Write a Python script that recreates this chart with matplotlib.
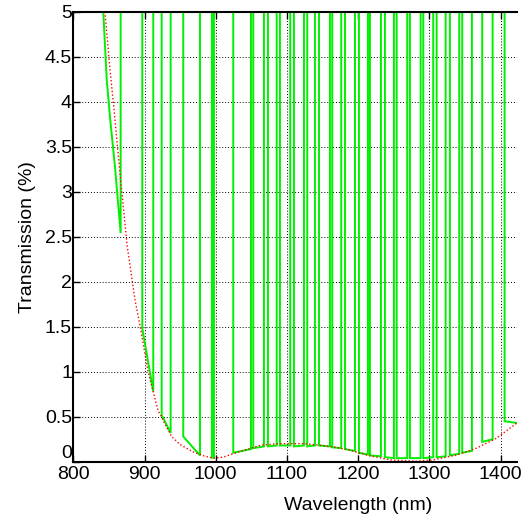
import matplotlib
matplotlib.use("Agg")
import matplotlib.pyplot as plt

plt.rcParams['font.family'] = ['Liberation Sans', 'DejaVu Sans']

# Red dotted envelope (wavelength nm, transmission %)
env_wl = [844.5, 851, 858, 864.6, 875.8, 886.6, 894, 905, 919, 938, 950, 968, 985,
          997, 1010, 1025, 1041, 1064, 1087, 1107, 1125, 1144, 1165, 1188, 1212,
          1245, 1282, 1305, 1338, 1366, 1394, 1423]
env_T = [5.0, 4.4, 3.85, 3.28, 2.39, 1.8, 1.5, 1.0, 0.57, 0.28, 0.19, 0.11, 0.06,
         0.04, 0.05, 0.09, 0.13, 0.185, 0.2, 0.2, 0.2, 0.185, 0.165, 0.13, 0.074,
         0.02, 0.005, 0.02, 0.074, 0.15, 0.26, 0.43]

# Green spectrum: leading edge, then low (off-resonance) segments between sharp peaks
lead_wl = [840.5, 842.1, 847.0, 851.5, 858.5, 866.5]
lead_T = [5.2, 5.0, 4.24, 3.83, 3.28, 2.54]

dip_start = [896.9, 924.1, 954.4, 994.7, 1024.6, 1052.7, 1073.3, 1090.2, 1109.8,
             1128.5, 1145.0, 1163.6, 1181.5, 1201.1, 1216.5, 1237.6, 1254.0, 1272.7,
             1291.4, 1310.2, 1328.8, 1346.1, 1374.2, 1405.6]
dip_end = [912.3, 936.7, 977.9, 997.5, 1049.5, 1067.7, 1085.6, 1104.6, 1123.9,
           1139.3, 1160.4, 1176.2, 1195.5, 1213.7, 1232.0, 1250.2, 1268.9, 1287.7,
           1305.4, 1322.8, 1341.9, 1359.7, 1388.8, 1422.9]
floor_start = [1.48, 0.52, 0.28, 0.045, 0.10, 0.15, 0.17, 0.18, 0.17, 0.17, 0.18,
               0.16, 0.14, 0.10, 0.07, 0.05, 0.04, 0.04, 0.04, 0.05, 0.07, 0.10,
               0.22, 0.45]
floor_end = [0.78, 0.32, 0.07, 0.045, 0.14, 0.17, 0.18, 0.18, 0.18, 0.18, 0.17,
             0.15, 0.12, 0.08, 0.06, 0.04, 0.04, 0.04, 0.05, 0.06, 0.09, 0.12,
             0.25, 0.43]
peak_level = 60.0

x_ticks = [800, 900, 1000, 1100, 1200, 1300, 1400]
y_ticks = [0, 0.5, 1, 1.5, 2, 2.5, 3, 3.5, 4, 4.5, 5]
y_ticklabels = ['0', '0.5', '1', '1.5', '2', '2.5', '3', '3.5', '4', '4.5', '5']

x_max = 1422.9

gx = list(lead_wl) + [lead_wl[-1]]
gy = list(lead_T) + [peak_level]
for s, e, fs, fe in zip(dip_start, dip_end, floor_start, floor_end):
    gx += [s, s, e]
    gy += [peak_level, fs, fe]
    if e < x_max:
        gx.append(e)
        gy.append(peak_level)

fig = plt.figure(figsize=(5.28, 5.20), dpi=100)
ax = fig.add_axes([0.1388, 0.1121, 0.979 - 0.1388, 0.9775 - 0.1121])

ax.plot(gx, gy, color='#00f000', lw=1.4, solid_joinstyle='miter')
ax.plot(env_wl, env_T, color='red', lw=1.0, linestyle=(0, (1, 1.6)))

ax.set_xlim(800, x_max)
ax.set_ylim(0, 5)
ax.set_xticks(x_ticks)
ax.set_yticks(y_ticks)
ax.set_yticklabels(y_ticklabels)
ax.get_yticklabels()[0].set_verticalalignment('bottom')
ax.grid(True, color='black', linestyle=(0, (1, 2)), lw=0.7)
ax.tick_params(direction='in', top=True, right=False, labelsize=14, length=5,
               width=1, pad=1)
ax.tick_params(axis='x', pad=3)
ax.spines['right'].set_visible(False)
for sp in ['left', 'bottom', 'top']:
    ax.spines[sp].set_linewidth(1.5)

ax.set_xlabel('Wavelength (nm)', fontsize=14, labelpad=2)
ax.xaxis.set_label_coords(0.642, -0.078)
ax.set_ylabel('Transmission (%)', fontsize=14, labelpad=6)

fig.savefig('out.png', dpi=100)
